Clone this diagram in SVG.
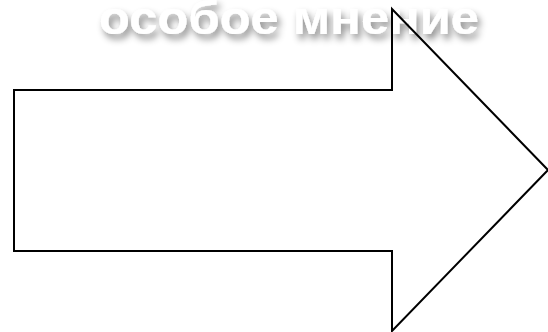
<svg xmlns="http://www.w3.org/2000/svg" width="548" height="332" viewBox="0 0 548 332">
<defs>
<filter id="sh" x="-10%" y="-50%" width="120%" height="200%">
<feDropShadow dx="3" dy="5" stdDeviation="3.5" flood-color="#000" flood-opacity="0.45"/>
</filter>
<style>
.arrow{fill:none;stroke:#000;stroke-width:2;stroke-linejoin:miter}
.title{font-family:"Liberation Sans",Arial,sans-serif;font-weight:bold;font-size:46px;fill:#fff}
</style>
</defs>
<rect width="548" height="332" fill="#fff"/>
<g id="title">
<text class="title" x="99" y="34" textLength="380" lengthAdjust="spacingAndGlyphs" filter="url(#sh)">особое мнение</text>
</g>
<g id="arrow">
<polygon class="arrow" points="14,90 392,90 392,9 548,170 392,331 392,251 14,251"/>
</g>
</svg>
